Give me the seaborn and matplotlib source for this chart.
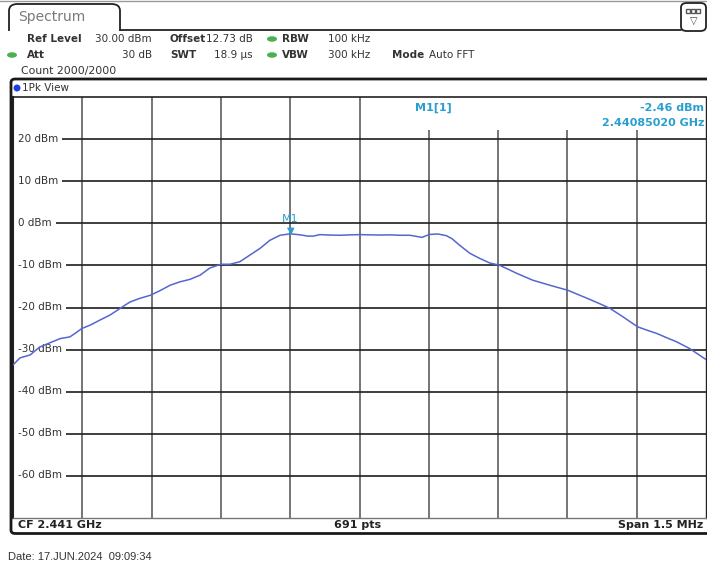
import numpy as np
import pandas as pd
import matplotlib
matplotlib.use("Agg")
import matplotlib.pyplot as plt
import matplotlib.transforms as mtransforms
from matplotlib.patches import FancyBboxPatch, Rectangle, Ellipse
from matplotlib.lines import Line2D
import seaborn as sns

# ---- sweep settings -------------------------------------------------------
CF_GHZ = 2.441
SPAN_MHZ = 1.5
REF_LEVEL = 30.0
Y_BOTTOM = -70.0

# ---- trace: offset from centre (MHz) and level (dBm) ----------------------
offset_mhz = [-0.750, -0.735, -0.713, -0.692, -0.670, -0.648, -0.627, -0.616,
              -0.601, -0.583, -0.562, -0.540, -0.518, -0.497, -0.475, -0.453,
              -0.432, -0.410, -0.389, -0.367, -0.345, -0.324, -0.300, -0.280,
              -0.259, -0.237, -0.215, -0.194, -0.172, -0.150, -0.128, -0.112,
              -0.100, -0.086, -0.064, -0.042, -0.020, 0.001, 0.023, 0.044,
              0.066, 0.087, 0.109, 0.125, 0.135, 0.152, 0.170, 0.188, 0.200,
              0.217, 0.239, 0.260, 0.282, 0.302, 0.322, 0.341, 0.375, 0.412,
              0.451, 0.475, 0.499, 0.520, 0.542, 0.570, 0.602, 0.625, 0.644,
              0.665, 0.687, 0.715, 0.750]
level_dbm = [-33.7, -32.0, -31.3, -29.4, -28.4, -27.4, -27.0, -26.2,
             -25.0, -24.2, -23.0, -21.8, -20.2, -18.7, -17.8, -17.1,
             -16.0, -14.7, -13.9, -13.3, -12.3, -10.6, -9.7, -9.7,
             -9.1, -7.5, -5.9, -4.0, -2.8, -2.46, -2.7, -3.0,
             -3.0, -2.65, -2.75, -2.8, -2.7, -2.65, -2.7, -2.75,
             -2.7, -2.8, -2.8, -3.1, -3.3, -2.6, -2.5, -2.9, -3.6,
             -5.2, -7.1, -8.3, -9.4, -9.9, -10.9, -11.9, -13.5, -14.7,
             -15.9, -17.0, -18.1, -19.1, -20.2, -22.2, -24.6, -25.5, -26.2,
             -27.2, -28.2, -29.8, -32.4]

marker_freq_ghz = 2.44085020
marker_level = -2.46

y_ticks = [-60, -50, -40, -30, -20, -10, 0, 10, 20]

# (text, bold, x position in px, alignment)
header_row1 = [("Ref Level", True, 27, "left"), ("30.00 dBm", False, 152, "right"),
               ("Offset", True, 170, "left"), ("12.73 dB", False, 253, "right"),
               ("RBW", True, 282, "left"), ("100 kHz", False, 328, "left")]
header_row2 = [("Att", True, 27, "left"), ("30 dB", False, 152, "right"),
               ("SWT", True, 170, "left"), ("18.9 µs", False, 253, "right"),
               ("VBW", True, 282, "left"), ("300 kHz", False, 328, "left"),
               ("Mode", True, 392, "left"), ("Auto FFT", False, 429, "left")]

TRACE_COLOR = "#5566cf"
MARKER_COLOR = "#2a9fcf"
TEXT_COLOR = "#333333"

W, H = 707, 565
sns.set_style("white")
plt.rcParams["font.family"] = ["DejaVu Sans"]

fig = plt.figure(figsize=(W / 100, H / 100), dpi=100)


def fx(px):
    return px / W


def fy(py):
    return 1 - py / H


def ftext(x, y, s, **kw):
    kw.setdefault("color", TEXT_COLOR)
    kw.setdefault("va", "center")
    fig.text(fx(x), fy(y), s, **kw)


def fline(xs, ys, **kw):
    fig.add_artist(Line2D([fx(v) for v in xs], [fy(v) for v in ys],
                          transform=fig.transFigure, **kw))


# ---- plot area -------------------------------------------------------------
ax_left, ax_right, ax_top, ax_bottom = 13, 706, 97.5, 517.5
ax = fig.add_axes([fx(ax_left), fy(ax_bottom), (ax_right - ax_left) / W,
                   (ax_bottom - ax_top) / H])

df = pd.DataFrame({"freq": [CF_GHZ + o / 1000 for o in offset_mhz],
                   "level": level_dbm})
sns.lineplot(data=df, x="freq", y="level", ax=ax, color=TRACE_COLOR,
             linewidth=1.1, zorder=3)

f_lo = CF_GHZ - SPAN_MHZ / 2000
f_hi = CF_GHZ + SPAN_MHZ / 2000
ax.set_xlim(f_lo, f_hi)
ax.set_ylim(Y_BOTTOM, REF_LEVEL)
ax.set_xticks(np.linspace(f_lo, f_hi, 11)[1:-1])
ax.set_yticks(y_ticks)
ax.set_xticklabels([])
ax.set_yticklabels([])
ax.tick_params(length=0)
ax.set_xlabel("")
ax.set_ylabel("")
ax.set_axisbelow(True)
ax.xaxis.grid(True, color="#5e5e5e", linewidth=1.2)
ax.yaxis.grid(True, color="#1e1e1e", linewidth=1.2)
for side, col, lw in [("top", "#222222", 1.2), ("bottom", "#777777", 1.0),
                      ("left", "#222222", 1.5), ("right", "#222222", 1.0)]:
    ax.spines[side].set_color(col)
    ax.spines[side].set_linewidth(lw)

# level labels sit on the grid lines inside the plot
blend = mtransforms.blended_transform_factory(ax.transAxes, ax.transData)
for v in y_ticks:
    ax.text(0.0065, v, f"{v} dBm", transform=blend, ha="left", va="center",
            fontsize=7.5, color=TEXT_COLOR, zorder=2,
            bbox=dict(facecolor="white", edgecolor="none", pad=3.2))

# marker readout area
ax.add_patch(Rectangle((0.545, 0.922), 0.455, 0.078, transform=ax.transAxes,
                       facecolor="white", edgecolor="none", zorder=1))
ax.text(0.58, 0.975, "M1[1]", transform=ax.transAxes, ha="left", va="center",
        fontsize=8, fontweight="bold", color=MARKER_COLOR, zorder=4)
ax.text(0.997, 0.975, f"{marker_level:.2f} dBm", transform=ax.transAxes,
        ha="right", va="center", fontsize=8, fontweight="bold",
        color=MARKER_COLOR, zorder=4)
ax.text(0.997, 0.939, f"{marker_freq_ghz:.8f} GHz", transform=ax.transAxes,
        ha="right", va="center", fontsize=8, fontweight="bold",
        color=MARKER_COLOR, zorder=4)

# M1 marker: triangle with its tip on the trace
ax.plot([marker_freq_ghz], [marker_level], linestyle="none",
        marker=[(-1, 2), (1, 2), (0, 0)], markersize=9,
        color=MARKER_COLOR, zorder=5)
ax.annotate("M1", (marker_freq_ghz, marker_level), xytext=(0, 15),
            textcoords="offset pixels", ha="center", va="center",
            fontsize=8, color=MARKER_COLOR, zorder=5)

# ---- header ----------------------------------------------------------------
fline([0, W], [0.8, 0.8], color="#9a9a9a", linewidth=1.0)
fig.add_artist(FancyBboxPatch((fx(9), fy(38)), fx(120) - fx(9), fy(4) - fy(38),
                              boxstyle="round,pad=0,rounding_size=0.012",
                              transform=fig.transFigure, facecolor="white",
                              edgecolor="#222222", linewidth=1.3, zorder=1))
fig.add_artist(Rectangle((fx(0), fy(78)), 1, fy(30.8) - fy(78),
                         transform=fig.transFigure, facecolor="white",
                         edgecolor="none", zorder=2))
fline([120, 681], [30, 30], color="#222222", linewidth=1.3, zorder=3)
ftext(18, 17, "Spectrum", fontsize=10, color="#7a7a7a", zorder=4)

# small menu button at the top right
fig.add_artist(FancyBboxPatch((fx(681), fy(31)), fx(706) - fx(681), fy(3) - fy(31),
                              boxstyle="round,pad=0,rounding_size=0.008",
                              transform=fig.transFigure, facecolor="white",
                              edgecolor="#222222", linewidth=1.3, zorder=3))
for bx in (686, 691, 696):
    fig.add_artist(Rectangle((fx(bx), fy(13)), 4 / W, 4 / H,
                             transform=fig.transFigure, facecolor="white",
                             edgecolor="#555555", linewidth=1.0, zorder=4))
ftext(693.5, 21, "▽", fontsize=7, ha="center", color="#444444", zorder=4)

for row_y, row in [(39, header_row1), (55, header_row2)]:
    for s, bold, x, ha in row:
        ftext(x, row_y, s, fontsize=7.5, ha=ha, zorder=4,
              fontweight="bold" if bold else "normal")
for (dx, dy) in [(272, 39), (272, 55), (12, 55)]:
    fig.add_artist(Ellipse((fx(dx), fy(dy)), 10 / W, 5.5 / H,
                           transform=fig.transFigure, facecolor="#4caf50",
                           edgecolor="none", zorder=4))
ftext(21, 71, "Count 2000/2000", fontsize=7.8, zorder=4)

# view frame and trace-label bar
fig.add_artist(FancyBboxPatch((fx(11), fy(533.5)), fx(720) - fx(11),
                              fy(79) - fy(533.5),
                              boxstyle="round,pad=0,rounding_size=0.006",
                              transform=fig.transFigure, facecolor="none",
                              edgecolor="#1a1a1a", linewidth=2.0, zorder=5))
fig.add_artist(Ellipse((fx(17), fy(88)), 7 / W, 7 / H,
                       transform=fig.transFigure, facecolor="#1d3fe0",
                       edgecolor="none", zorder=4))
ftext(22, 88, "1Pk View", fontsize=7.5, zorder=4)

# ---- footer strip ------------------------------------------------------------
ftext(18, 525.5, f"CF {CF_GHZ:.3f} GHz", fontsize=8, fontweight="bold",
      color="#222222")
ftext(358, 525.5, "691 pts", fontsize=8, fontweight="bold", ha="center",
      color="#222222")
ftext(703, 525.5, f"Span {SPAN_MHZ} MHz", fontsize=8, fontweight="bold",
      ha="right", color="#222222")
ftext(8, 557, "Date: 17.JUN.2024  09:09:34", fontsize=8,
      family=["Liberation Sans", "DejaVu Sans"], color=TEXT_COLOR)

fig.savefig("out.png", dpi=100)
